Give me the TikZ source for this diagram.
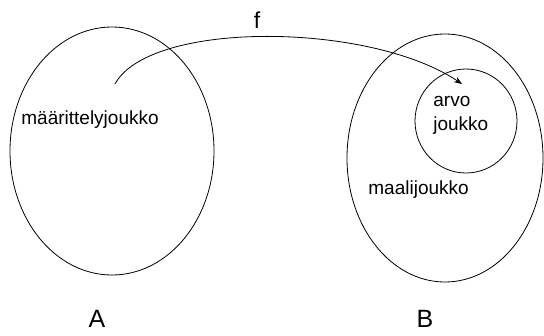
\documentclass[tikz,border=0pt]{standalone}
\usepackage{fontspec}
\setmainfont{Liberation Sans}
\usepackage{tikz}
\usetikzlibrary{arrows.meta,positioning,shapes.geometric}

\begin{document}
\begin{tikzpicture}[x=1pt, y=-1pt, line width=0.8pt,
  set/.style={draw, ellipse, inner sep=0pt},
  lbl/.style={font=\fontsize{19}{24}\selectfont, inner sep=0pt},
  big/.style={font=\fontsize{25}{28}\selectfont, inner sep=0pt}]
\useasboundingbox (0,0) rectangle (544,335);
% the two sets and the range inside B
\node[set, minimum width=204pt, minimum height=248pt] (A) at (112,151) {};
\node[set, minimum width=196pt, minimum height=248pt] (B) at (445,158) {};
\node[set, minimum width=102pt, minimum height=104pt] (R) at (466,121) {};
% labels
\node[lbl, anchor=west] (ma) at (21,120) {määrittelyjoukko};
\node[lbl, anchor=west, align=left] (ar) at (433,115) {arvo\\joukko};
\node[lbl, anchor=west] (mj) at (368,190) {maalijoukko};
\node[big] (nA) at (97,319) {A};
\node[big] (nB) at (425,319) {B};
% the map f
\coordinate (p) at (115,84);
\coordinate (q) at (462,84);
\draw[-{Stealth[length=8pt, width=6pt]}] (p) .. controls (150,20) and (370,22) .. (q);
\node[big, font=\fontsize{23}{26}\selectfont] (nf) at (257,20) {f};
\end{tikzpicture}
\end{document}
